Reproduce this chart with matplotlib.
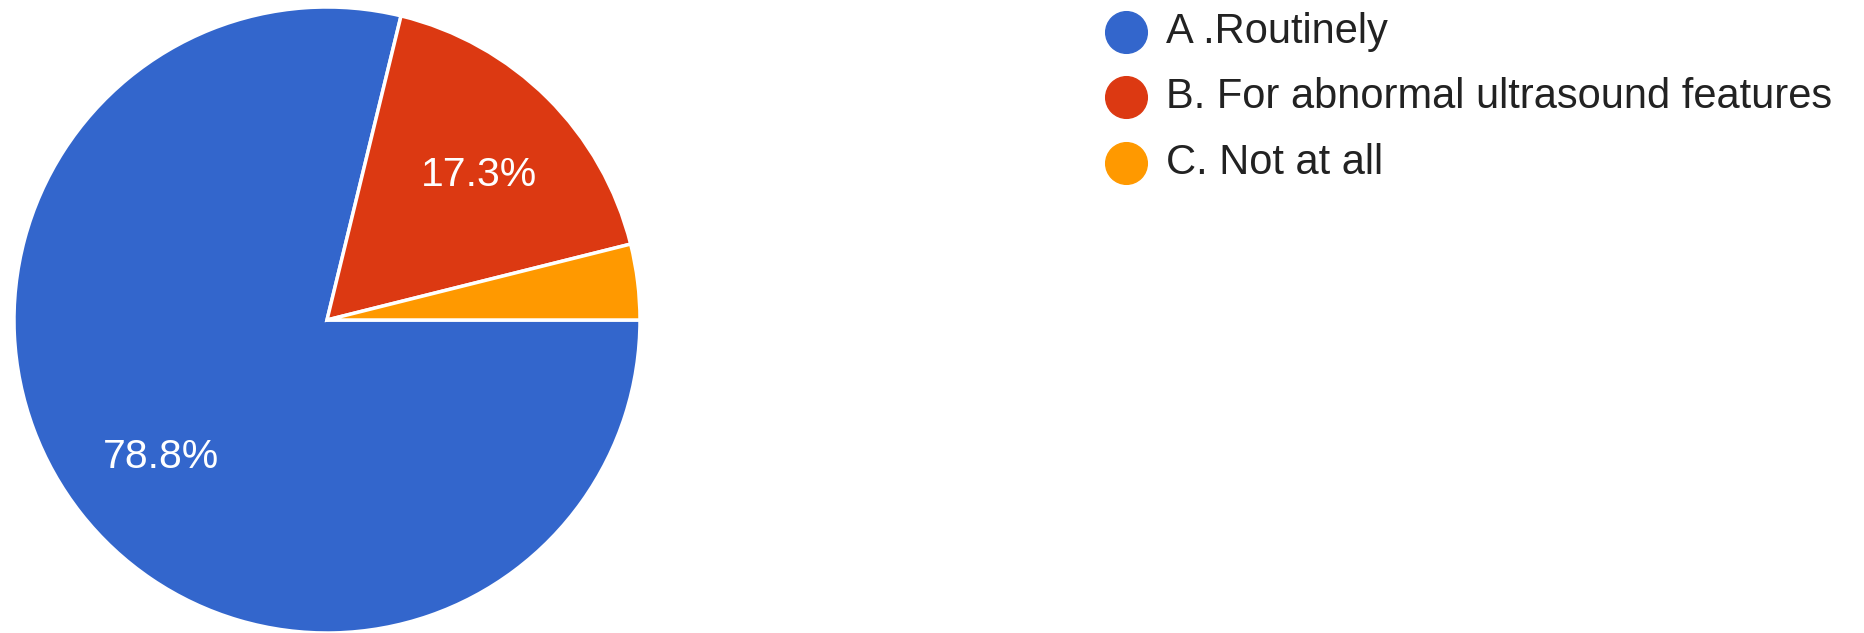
import matplotlib
matplotlib.use("Agg")
import matplotlib.pyplot as plt
from matplotlib.lines import Line2D
import numpy as np

categories = ["A .Routinely", "B. For abnormal ultrasound features", "C. Not at all"]
values = [78.8, 17.3, 3.9]
pct_labels = ["78.8%", "17.3%", ""]
colors = ["#3366CC", "#DC3912", "#FF9900"]

W, H = 1865, 633
fig = plt.figure(figsize=(W / 100, H / 100), dpi=100)
fig.patch.set_facecolor("white")

plt.rcParams['font.family'] = ['Liberation Sans', 'DejaVu Sans']

# pie axes: centre (327, 320) px from top-left, radius 313 px
cx, cy, r = 327, 320, 313
ax = fig.add_axes([(cx - r) / W, (H - cy - r) / H, 2 * r / W, 2 * r / H])
wedges, _ = ax.pie(values, colors=colors, startangle=0, counterclock=False,
                   radius=1.0, wedgeprops=dict(edgecolor="white", linewidth=2.5))
ang = 0.0
for w, lab, v in zip(wedges, pct_labels, values):
    mid = ang - v / 100 * 360 / 2
    ang -= v / 100 * 360
    if lab:
        t = np.deg2rad(mid)
        ax.text(0.68 * np.cos(t) + 0.005, 0.68 * np.sin(t) - 0.018, lab, color="white",
                fontsize=29.5, ha="center", va="center")
ax.set_xlim(-1, 1)
ax.set_ylim(-1, 1)
ax.set_aspect("equal")
ax.axis("off")

# legend
lx_marker, lx_text = 1126, 1166
ly = [32, 97, 163]
for lab, col, y in zip(categories, colors, ly):
    fig.add_artist(Line2D([lx_marker / W], [(H - y) / H], marker="o", markersize=30,
                          markerfacecolor=col, markeredgecolor=col, linestyle="none",
                          transform=fig.transFigure))
    fig.text(lx_text / W, (H - y) / H, lab, fontsize=30, color="#222222",
             ha="left", va="center")

fig.savefig("out.png", dpi=100, facecolor="white")
